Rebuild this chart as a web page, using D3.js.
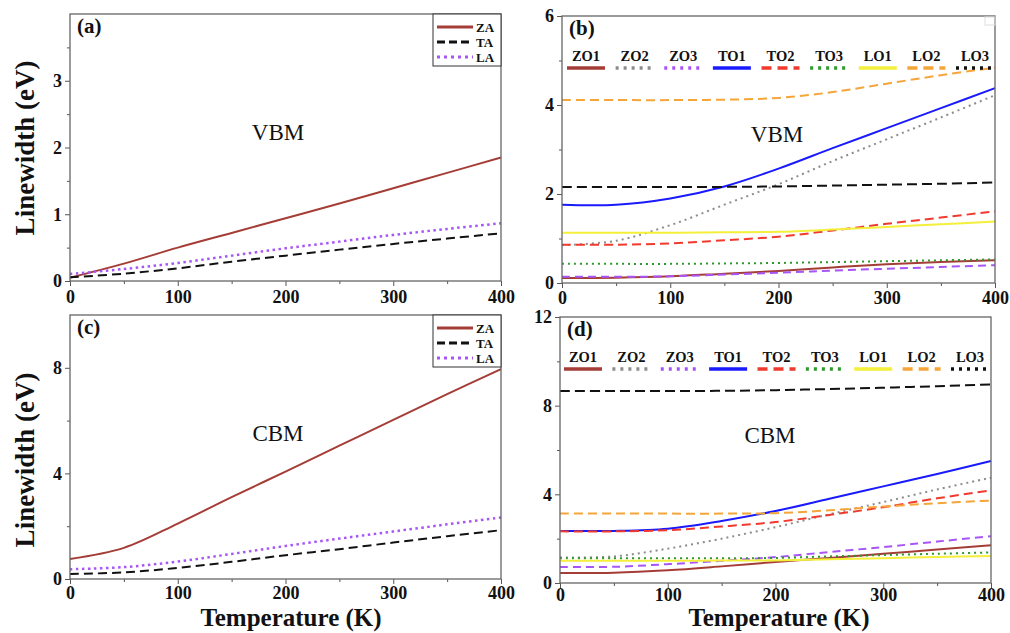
<!DOCTYPE html>
<html>
<head>
<meta charset="utf-8">
<script src="https://cdn.jsdelivr.net/npm/d3@7"></script>
<style>
    body { margin: 0; background: #fff; }
    svg { display: block; font-family: "Liberation Serif", "Times New Roman", serif; }
</style>
</head>
<body>
<svg id="fig" width="1010" height="633"></svg>
<script>
"use strict"

//----------------------------DATA------------------------------//
// temperature grid (K), shared by every curve
const temps = [0, 50, 100, 150, 200, 250, 300, 350, 400];
const xTickLabels = [0, 100, 200, 300, 400];
const xMinorTicks = [50, 150, 250, 350];

// acoustic modes: (a) VBM, (c) CBM
const acousticNames = ["ZA", "TA", "LA"];
const vbmZA = [0.05, 0.26, 0.50, 0.72, 0.94, 1.16, 1.39, 1.62, 1.85];
const vbmTA = [0.055, 0.11, 0.19, 0.29, 0.38, 0.47, 0.555, 0.635, 0.715];
const vbmLA = [0.105, 0.18, 0.27, 0.38, 0.49, 0.59, 0.69, 0.78, 0.865];
const cbmZA = [0.76, 1.18, 2.10, 3.10, 4.07, 5.05, 6.03, 7.00, 7.95];
const cbmTA = [0.19, 0.25, 0.42, 0.65, 0.90, 1.13, 1.38, 1.62, 1.85];
const cbmLA = [0.37, 0.45, 0.66, 0.95, 1.25, 1.53, 1.80, 2.07, 2.33];

// optical modes: (b) VBM, (d) CBM
const opticalNames = ["ZO1", "ZO2", "ZO3", "TO1", "TO2", "TO3", "LO1", "LO2", "LO3"];
const vbmZO1 = [0.11, 0.12, 0.15, 0.21, 0.27, 0.35, 0.42, 0.47, 0.51];
const vbmZO2 = [0.85, 0.95, 1.30, 1.76, 2.22, 2.74, 3.23, 3.72, 4.22];
const vbmZO3 = [0.14, 0.14, 0.15, 0.19, 0.23, 0.28, 0.32, 0.36, 0.40];
const vbmTO1 = [1.76, 1.76, 1.90, 2.17, 2.57, 3.03, 3.48, 3.93, 4.38];
const vbmTO2 = [0.86, 0.86, 0.89, 0.96, 1.04, 1.18, 1.33, 1.47, 1.61];
const vbmTO3 = [0.43, 0.43, 0.43, 0.44, 0.45, 0.47, 0.49, 0.51, 0.53];
const vbmLO1 = [1.13, 1.13, 1.13, 1.14, 1.15, 1.20, 1.26, 1.32, 1.38];
const vbmLO2 = [4.11, 4.11, 4.11, 4.12, 4.16, 4.29, 4.48, 4.67, 4.84];
const vbmLO3 = [2.16, 2.16, 2.16, 2.16, 2.17, 2.19, 2.21, 2.23, 2.26];

const cbmZO1 = [0.45, 0.46, 0.57, 0.75, 0.95, 1.13, 1.32, 1.51, 1.70];
const cbmZO2 = [1.15, 1.20, 1.55, 2.00, 2.52, 3.10, 3.65, 4.22, 4.75];
const cbmZO3 = [0.72, 0.73, 0.85, 1.00, 1.17, 1.40, 1.62, 1.87, 2.11];
const cbmTO1 = [2.35, 2.35, 2.45, 2.80, 3.25, 3.80, 4.36, 4.92, 5.50];
const cbmTO2 = [2.33, 2.33, 2.38, 2.55, 2.75, 3.07, 3.42, 3.82, 4.18];
const cbmTO3 = [1.12, 1.12, 1.12, 1.12, 1.13, 1.20, 1.26, 1.32, 1.38];
const cbmLO1 = [1.00, 1.00, 1.00, 1.01, 1.02, 1.07, 1.12, 1.17, 1.22];
const cbmLO2 = [3.13, 3.13, 3.13, 3.13, 3.15, 3.28, 3.45, 3.60, 3.72];
const cbmLO3 = [8.66, 8.66, 8.66, 8.67, 8.70, 8.75, 8.81, 8.88, 8.96];

// y tick labels per panel
const aYTicks = [0, 1, 2, 3];
const bYTicks = [0, 2, 4, 6];
const cYTicks = [0, 4, 8];
const dYTicks = [0, 4, 8, 12];

//---------------------------STYLES-----------------------------//
// plot dash and legend dash are not always the same in the original figure
const modeStyle = {
    ZA: { color: "#a53d37", dash: null, legendDash: null, width: 2 },
    TA: { color: "#111", dash: "9,5", legendDash: "8,4", width: 2 },
    LA: { color: "#a855f7", dash: "2.5,3.5", legendDash: "3,4", width: 2.5 },
    ZO1: { color: "#a53d37", dash: null, legendDash: null, width: 2 },
    ZO2: { color: "#8c8c8c", dash: "2,4", legendDash: "3,5", width: 2 },
    ZO3: { color: "#a855f7", dash: "8,5", legendDash: "3,5", width: 2 },
    TO1: { color: "#1a1aff", dash: null, legendDash: null, width: 2 },
    TO2: { color: "#f03a2e", dash: "9,5", legendDash: "10,6", width: 2 },
    TO3: { color: "#2e9a2e", dash: "2,4", legendDash: "3,5", width: 2 },
    LO1: { color: "#f3ef3a", dash: null, legendDash: null, width: 2 },
    LO2: { color: "#f5a53a", dash: "9,5", legendDash: "10,6", width: 2 },
    LO3: { color: "#111", dash: "10,5", legendDash: "3,5", width: 2 }
};

const svg = d3.select("#fig");
svg.append("rect").attr("width", 1010).attr("height", 633).attr("fill", "#fff");

//-------------------------DRAW PANEL---------------------------//
const drawPanel = (cfg) => {
    const x = d3.scaleLinear().domain([0, 400]).range([cfg.left, cfg.right]);
    const y = d3.scaleLinear().domain([0, cfg.yMax]).range([cfg.bottom, cfg.top]);

    // minor ticks
    svg.append("g")
        .attr("transform", `translate(0,${cfg.bottom})`)
        .call(d3.axisBottom(x).tickValues(xMinorTicks).tickSize(3).tickFormat(""))
        .call(g => g.select(".domain").remove());
    svg.append("g")
        .attr("transform", `translate(${cfg.left},0)`)
        .call(d3.axisLeft(y).tickValues(cfg.yMinor).tickSize(3).tickFormat(""))
        .call(g => g.select(".domain").remove());

    // major ticks + labels
    const xaxisEl = svg.append("g")
        .attr("class", "axis xaxis")
        .attr("transform", `translate(0,${cfg.bottom})`)
        .call(d3.axisBottom(x).tickValues(xTickLabels).tickSize(5).tickPadding(cfg.xPad).tickFormat(d3.format("d")));
    const yaxisEl = svg.append("g")
        .attr("class", "axis yaxis")
        .attr("transform", `translate(${cfg.left},0)`)
        .call(d3.axisLeft(y).tickValues(cfg.yTicks).tickSize(5).tickPadding(3).tickFormat(d3.format("d")));

    [xaxisEl, yaxisEl].forEach(g => {
        g.select(".domain").remove();
        g.selectAll("text")
            .attr("font-family", "Liberation Serif, Times New Roman, serif")
            .style("font-size", "18px")
            .style("font-weight", "bold")
            .attr("fill", "#111");
    });
    svg.selectAll(".tick line").attr("stroke", "#555");

    // curves
    const line = d3.line()
        .x((d, i) => x(temps[i]))
        .y(d => y(d))
        .curve(d3.curveCatmullRom.alpha(0.5));

    cfg.series.forEach(s => {
        const st = modeStyle[s.name];
        svg.append("path")
            .datum(s.values)
            .attr("d", line)
            .attr("fill", "none")
            .attr("stroke", st.color)
            .attr("stroke-width", st.width)
            .attr("stroke-dasharray", st.dash);
    });

    // frame
    svg.append("rect")
        .attr("x", cfg.left)
        .attr("y", cfg.top)
        .attr("width", cfg.right - cfg.left)
        .attr("height", cfg.bottom - cfg.top)
        .attr("fill", "none")
        .attr("stroke", "#666")
        .attr("stroke-width", 1.3);

    // panel tag and band label
    svg.append("text")
        .attr("x", cfg.left + 7)
        .attr("y", cfg.top + 19)
        .style("font-size", "21px")
        .style("font-weight", "bold")
        .attr("fill", "#111")
        .text(cfg.tag);

    svg.append("text")
        .attr("x", cfg.bandX)
        .attr("y", cfg.top + 126)
        .attr("text-anchor", "middle")
        .style("font-size", "23px")
        .attr("fill", "#111")
        .text(cfg.band);

    return { x, y };
};

// legend for the acoustic panels (boxed, top right)
const acousticLegend = (cfg) => {
    const boxL = cfg.right - 68;
    svg.append("rect")
        .attr("x", boxL)
        .attr("y", cfg.top)
        .attr("width", 68)
        .attr("height", 52)
        .attr("fill", "#fff")
        .attr("stroke", "#333")
        .attr("stroke-width", 1);
    acousticNames.forEach((name, i) => {
        const st = modeStyle[name];
        const ly = cfg.top + 13 + i * 15;
        svg.append("line")
            .attr("x1", boxL + 4).attr("x2", boxL + 40)
            .attr("y1", ly).attr("y2", ly)
            .attr("stroke", st.color)
            .attr("stroke-width", 3)
            .attr("stroke-dasharray", st.legendDash);
        svg.append("text")
            .attr("x", boxL + 43)
            .attr("y", ly + 4.5)
            .style("font-size", "13px")
            .style("font-weight", "bold")
            .attr("fill", "#111")
            .text(name);
    });
};

// legend for the optical panels (one row, labels above lines)
const opticalLegend = (cfg, from, to, textY, lineY) => {
    const lx = d3.scalePoint().domain(opticalNames).range([from, to]);
    opticalNames.forEach(name => {
        const st = modeStyle[name];
        svg.append("text")
            .attr("x", lx(name))
            .attr("y", textY)
            .attr("text-anchor", "middle")
            .style("font-size", "14.5px")
            .style("font-weight", "bold")
            .attr("fill", "#111")
            .text(name);
        svg.append("line")
            .attr("x1", lx(name) - 19).attr("x2", lx(name) + 19)
            .attr("y1", lineY).attr("y2", lineY)
            .attr("stroke", st.color)
            .attr("stroke-width", 3.5)
            .attr("stroke-dasharray", st.legendDash);
    });
};

//---------------------------PANELS-----------------------------//
const panelA = {
    tag: "(a)", band: "VBM", bandX: 278, xPad: 4,
    left: 70, right: 501, top: 14, bottom: 281, yMax: 4,
    yTicks: aYTicks, yMinor: [0.5, 1.5, 2.5, 3.5],
    series: [
        { name: "ZA", values: vbmZA },
        { name: "TA", values: vbmTA },
        { name: "LA", values: vbmLA }
    ]
};
const panelB = {
    tag: "(b)", band: "VBM", bandX: 777, xPad: 3,
    left: 562, right: 995, top: 16, bottom: 283, yMax: 6,
    yTicks: bYTicks, yMinor: [1, 3, 5],
    series: [
        { name: "ZO1", values: vbmZO1 }, { name: "ZO2", values: vbmZO2 }, { name: "ZO3", values: vbmZO3 },
        { name: "TO1", values: vbmTO1 }, { name: "TO2", values: vbmTO2 }, { name: "TO3", values: vbmTO3 },
        { name: "LO1", values: vbmLO1 }, { name: "LO2", values: vbmLO2 }, { name: "LO3", values: vbmLO3 }
    ]
};
const panelC = {
    tag: "(c)", band: "CBM", bandX: 278, xPad: 2,
    left: 70, right: 501, top: 315, bottom: 579, yMax: 10,
    yTicks: cYTicks, yMinor: [2, 6],
    series: [
        { name: "ZA", values: cbmZA },
        { name: "TA", values: cbmTA },
        { name: "LA", values: cbmLA }
    ]
};
const panelD = {
    tag: "(d)", band: "CBM", bandX: 770, xPad: 0,
    left: 560, right: 991, top: 317, bottom: 583, yMax: 12,
    yTicks: dYTicks, yMinor: [2, 6, 10],
    series: [
        { name: "ZO1", values: cbmZO1 }, { name: "ZO2", values: cbmZO2 }, { name: "ZO3", values: cbmZO3 },
        { name: "TO1", values: cbmTO1 }, { name: "TO2", values: cbmTO2 }, { name: "TO3", values: cbmTO3 },
        { name: "LO1", values: cbmLO1 }, { name: "LO2", values: cbmLO2 }, { name: "LO3", values: cbmLO3 }
    ]
};

drawPanel(panelA);
acousticLegend(panelA);
drawPanel(panelB);
opticalLegend(panelB, 586, 975, 61, 68);
drawPanel(panelC);
acousticLegend(panelC);
drawPanel(panelD);
opticalLegend(panelD, 583, 970, 362, 369);

// faint marker in the top-right corner of (b), as in the original
svg.append("rect")
    .attr("x", 985).attr("y", 17).attr("width", 10).attr("height", 8)
    .attr("fill", "none").attr("stroke", "#ddd");

//---------------------------TITLES-----------------------------//
[148, 460].forEach(cy => {
    svg.append("text")
        .attr("transform", `translate(34,${cy}) rotate(-90)`)
        .attr("text-anchor", "middle")
        .style("font-size", "27px")
        .style("font-weight", "bold")
        .attr("fill", "#111")
        .text("Linewidth (eV)");
});
[291, 779].forEach(cx => {
    svg.append("text")
        .attr("x", cx)
        .attr("y", 626)
        .attr("text-anchor", "middle")
        .style("font-size", "25px")
        .style("font-weight", "bold")
        .attr("fill", "#111")
        .text("Temperature (K)");
});
</script>
</body>
</html>
